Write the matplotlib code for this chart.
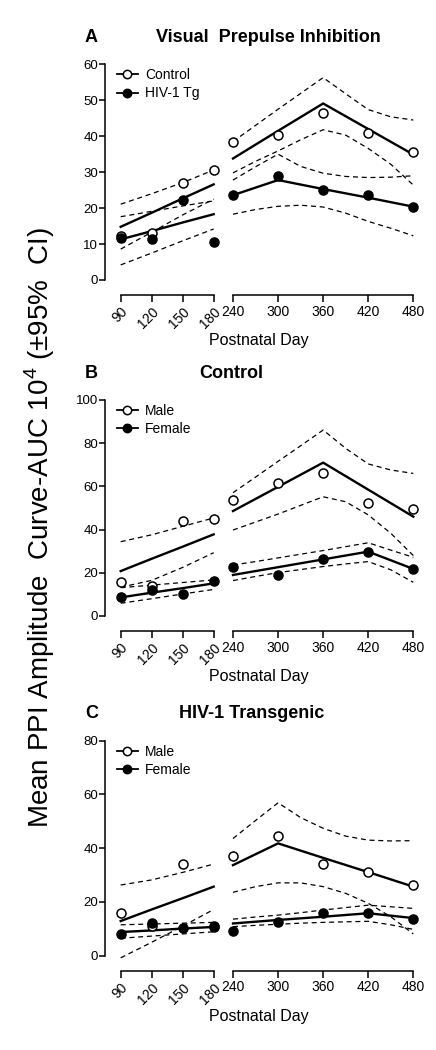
import numpy as np
import matplotlib
matplotlib.use('Agg')
import matplotlib.pyplot as plt
from matplotlib.lines import Line2D

plt.rcParams['font.family'] = ['Liberation Sans', 'DejaVu Sans']
plt.rcParams['mathtext.fontset'] = 'custom'
plt.rcParams['mathtext.rm'] = 'Liberation Sans'

W, H = 436, 1050

days_left = [90, 120, 150, 180]
days_right = [240, 300, 360, 420, 480]
ci_days_right = [240, 270, 300, 330, 360, 390, 420, 450, 480]

# ---- panel A: Visual Prepulse Inhibition (Control vs HIV-1 Tg)
a_ctrl_pts = [12.2, 13.0, 26.9, 30.5, 38.3, 40.2, 46.5, 40.9, 35.6]
a_tg_pts = [11.7, 11.5, 22.3, 10.7, 23.6, 29.0, 25.0, 23.6, 20.2]
a_ctrl_fit = [14.8, 18.7, 22.7, 26.6, 33.8, 41.5, 49.1, 42.0, 34.9]
a_tg_fit = [11.3, 13.6, 16.0, 18.3, 23.6, 27.8, 25.3, 22.9, 20.4]
a_ctrl_hi_l = [21.1, 24.0, 27.1, 30.6]
a_ctrl_lo_l = [8.6, 13.3, 18.1, 22.5]
a_tg_hi_l = [17.6, 19.1, 20.6, 22.0]
a_tg_lo_l = [4.2, 7.5, 10.9, 14.2]
a_ctrl_hi_r = [38.5, 43.0, 47.5, 51.9, 56.3, 51.8, 47.4, 45.4, 44.5]
a_ctrl_lo_r = [29.8, 33.0, 35.9, 39.0, 41.8, 40.3, 36.6, 32.2, 26.4]
a_tg_hi_r = [27.8, 31.5, 35.0, 31.6, 29.7, 28.8, 28.5, 28.6, 29.0]
a_tg_lo_r = [18.3, 19.6, 20.5, 20.8, 20.3, 18.6, 16.3, 14.4, 12.3]

# ---- panel B: Control (Male vs Female)
b_m_pts = [15.6, 14.0, 44.0, 44.9, 53.7, 61.7, 66.4, 52.2, 49.5]
b_f_pts = [8.6, 12.0, 10.2, 16.2, 22.8, 19.0, 26.4, 29.8, 21.8]
b_m_fit = [20.8, 26.5, 32.1, 37.8, 48.6, 59.8, 71.0, 58.5, 46.0]
b_f_fit = [8.6, 10.8, 12.9, 15.1, 19.0, 22.6, 26.2, 29.8, 21.8]
b_m_hi_l = [34.4, 37.6, 41.5, 45.4]
b_m_lo_l = [13.3, 16.5, 22.5, 29.3]
b_f_hi_l = [13.1, 14.3, 15.5, 16.7]
b_f_lo_l = [5.9, 8.0, 10.2, 12.3]
b_m_hi_r = [57.1, 64.3, 71.6, 78.8, 86.1, 77.6, 70.4, 67.6, 66.0]
b_m_lo_r = [39.8, 43.5, 47.2, 51.2, 55.2, 52.9, 46.8, 38.3, 28.0]
b_f_hi_r = [23.6, 25.2, 26.9, 28.6, 30.3, 32.1, 33.9, 30.5, 27.2]
b_f_lo_r = [16.4, 18.3, 20.1, 21.5, 22.9, 24.1, 25.2, 21.4, 15.6]

# ---- panel C: HIV-1 Transgenic (Male vs Female)
c_m_pts = [15.8, 11.0, 34.1, 10.5, 37.1, 44.5, 34.0, 31.0, 26.3]
c_f_pts = [8.1, 12.3, 10.2, 11.0, 9.3, 12.6, 15.8, 16.0, 13.6]
c_m_fit = [12.9, 17.2, 21.4, 25.7, 33.7, 41.8, 36.4, 31.1, 25.7]
c_f_fit = [8.8, 9.4, 10.1, 10.7, 12.0, 13.3, 14.5, 15.8, 14.0]
c_m_hi_l = [26.3, 28.2, 31.0, 34.1]
c_m_lo_l = [-0.8, 5.0, 11.0, 17.2]
c_f_hi_l = [11.5, 11.8, 12.1, 12.4]
c_f_lo_l = [6.5, 7.3, 8.1, 8.9]
c_m_hi_r = [43.6, 50.3, 56.9, 51.4, 47.4, 44.5, 43.0, 42.7, 42.8]
c_m_lo_r = [23.6, 25.7, 27.1, 27.1, 25.7, 23.2, 19.5, 14.5, 8.1]
c_f_hi_r = [13.6, 14.4, 15.1, 16.0, 17.0, 17.9, 18.8, 18.2, 17.6]
c_f_lo_r = [10.8, 11.3, 11.7, 12.1, 12.4, 12.6, 12.8, 11.5, 9.8]

panels = [
    dict(letter='A', title='Visual  Prepulse Inhibition', title_x=268, title_y=38,
         y0=280, ytop=64.3, ymax=60, ystep=10, ylo=-2,
         labels=['Control', 'HIV-1 Tg'],
         open=(a_ctrl_pts, a_ctrl_fit, a_ctrl_hi_l, a_ctrl_lo_l, a_ctrl_hi_r, a_ctrl_lo_r),
         fill=(a_tg_pts, a_tg_fit, a_tg_hi_l, a_tg_lo_l, a_tg_hi_r, a_tg_lo_r)),
    dict(letter='B', title='Control', title_x=231, title_y=373,
         y0=616, ytop=400, ymax=100, ystep=20, ylo=-3,
         labels=['Male', 'Female'],
         open=(b_m_pts, b_m_fit, b_m_hi_l, b_m_lo_l, b_m_hi_r, b_m_lo_r),
         fill=(b_f_pts, b_f_fit, b_f_hi_l, b_f_lo_l, b_f_hi_r, b_f_lo_r)),
    dict(letter='C', title='HIV-1 Transgenic', title_x=252, title_y=713,
         y0=955.7, ytop=740.7, ymax=80, ystep=20, ylo=-2,
         labels=['Male', 'Female'],
         open=(c_m_pts, c_m_fit, c_m_hi_l, c_m_lo_l, c_m_hi_r, c_m_lo_r),
         fill=(c_f_pts, c_f_fit, c_f_hi_l, c_f_lo_l, c_f_hi_r, c_f_lo_r)),
]

fig = plt.figure(figsize=(W / 100, H / 100), dpi=100)


def add_ax(x0, x1, ytop, ybot):
    return fig.add_axes([x0 / W, 1 - ybot / H, (x1 - x0) / W, (ybot - ytop) / H])


# pixel anchors of the broken x axis
lx0, lx1 = 105, 219
l90, l180 = 120.7, 213.7
rx0, rx1 = 226, 420
r240, r480 = 233, 413.3
ppd_l = (l180 - l90) / 90
ppd_r = (r480 - r240) / 240

for p in panels:
    ppu = (p['y0'] - p['ytop']) / p['ymax']
    ytop_px = p['ytop']
    ybot_px = p['y0'] - p['ylo'] * ppu
    axl = add_ax(lx0, lx1, ytop_px, ybot_px)
    axr = add_ax(rx0, rx1, ytop_px, ybot_px)
    outward = (15 + p['ylo'] * ppu) * 0.72

    axl.set_xlim(90 - (l90 - lx0) / ppd_l, 180 + (lx1 - l180) / ppd_l)
    axr.set_xlim(240 - (r240 - rx0) / ppd_r, 480 + (rx1 - r480) / ppd_r)

    for ax in (axl, axr):
        ax.set_ylim(p['ylo'], p['ymax'])
        ax.patch.set_alpha(0)
        ax.spines['top'].set_visible(False)
        ax.spines['right'].set_visible(False)
        ax.spines['bottom'].set_position(('outward', outward))
        ax.spines['bottom'].set_linewidth(1.1)
        ax.tick_params(axis='x', length=5, width=1.1, labelsize=10, pad=2)

    axl.spines['left'].set_bounds(0, p['ymax'])
    axl.spines['left'].set_linewidth(1.1)
    axl.set_yticks(np.arange(0, p['ymax'] + 1, p['ystep']))
    axl.tick_params(axis='y', length=4, width=1.1, labelsize=9.5, pad=1)
    axl.spines['bottom'].set_bounds(90, 180)
    axl.set_xticks(days_left)
    axl.set_xticklabels([str(d) for d in days_left], rotation=45, ha='right',
                        rotation_mode='anchor')

    axr.spines['left'].set_visible(False)
    axr.set_yticks([])
    axr.spines['bottom'].set_bounds(240, 480)
    axr.set_xticks(days_right)

    for key, face in (('open', 'white'), ('fill', 'black')):
        pts, fit, hi_l, lo_l, hi_r, lo_r = p[key]
        axl.plot(days_left, pts[:4], 'o', mfc=face, mec='black', ms=6.5, mew=1.1,
                 clip_on=False, zorder=4)
        axr.plot(days_right, pts[4:], 'o', mfc=face, mec='black', ms=6.5, mew=1.1,
                 clip_on=False, zorder=4)
        axl.plot(days_left, fit[:4], '-', color='black', lw=1.7, clip_on=False)
        axr.plot(days_right, fit[4:], '-', color='black', lw=1.7, clip_on=False)
        for ci in (hi_l, lo_l):
            axl.plot(days_left, ci, color='black', lw=0.9, ls=(0, (4, 3)), clip_on=False)
        for ci in (hi_r, lo_r):
            axr.plot(ci_days_right, ci, color='black', lw=0.9, ls=(0, (4, 3)), clip_on=False)

    handles = [
        Line2D([], [], color='black', lw=1.3, marker='o', mfc='white', mec='black', ms=6, mew=1.1),
        Line2D([], [], color='black', lw=1.3, marker='o', mfc='black', mec='black', ms=6, mew=1.1),
    ]
    fig.legend(handles, p['labels'], loc='upper left',
               bbox_to_anchor=(117 / W, 1 - (ytop_px + 4) / H),
               frameon=False, fontsize=10, handlelength=1.5, handletextpad=0.5,
               labelspacing=0.3, borderpad=0, borderaxespad=0)

    fig.text(85 / W, 1 - p['title_y'] / H, p['letter'], fontsize=13, fontweight='bold',
             ha='left', va='center')
    fig.text(p['title_x'] / W, 1 - p['title_y'] / H, p['title'], fontsize=13,
             fontweight='bold', ha='center', va='center')
    fig.text(259 / W, 1 - (p['y0'] + 61) / H, 'Postnatal Day', fontsize=11.5,
             ha='center', va='center')

fig.text(40 / W, 1 - 828 / H, r'Mean PPI Amplitude  Curve-AUC 10$^{4}$ ($\pm$95%  CI)',
         rotation=90, fontsize=20, ha='center', va='bottom')

fig.savefig('out.png', dpi=100)
